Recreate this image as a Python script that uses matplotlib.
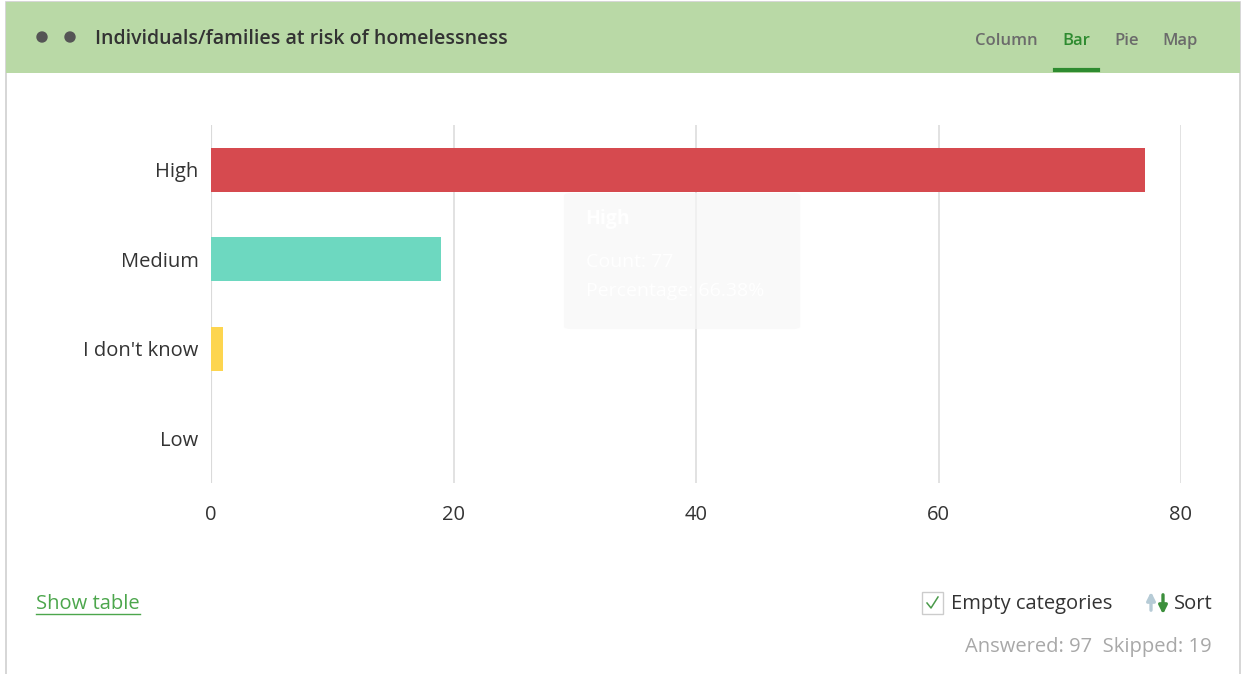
import matplotlib.pyplot as plt
from matplotlib.patches import Rectangle, FancyBboxPatch, Circle
from matplotlib.lines import Line2D

# Survey results
categories = ["High", "Medium", "I don't know", "Low"]
counts = [77, 19, 1, 0]
bar_colors = ["#d64a4f", "#6dd8c0", "#fdd54f", "#9b9b9b"]
answered = 97
skipped = 19
x_ticks = [0, 20, 40, 60, 80]

title = "Individuals/families at risk of homelessness"
font = ["Open Sans", "DejaVu Sans"]

W, H = 1244, 674
fig = plt.figure(figsize=(W / 100, H / 100), dpi=100)
fig.patch.set_facecolor("white")

# overlay axes in pixel coordinates for the card chrome
ov = fig.add_axes([0, 0, 1, 1], zorder=0)
ov.set_xlim(0, W)
ov.set_ylim(H, 0)
ov.axis("off")

# card border and green header
ov.add_patch(Rectangle((6, 2), 1234, 700, facecolor="white", edgecolor="#d0d0d0", lw=1.2))
ov.add_patch(Rectangle((6, 2), 1234, 71, facecolor="#b9d9a6", edgecolor="none"))
for cx in (42, 70):
    ov.add_patch(Circle((cx, 37), 5, color="#555555"))
ov.text(95, 39, title, fontsize=14, fontweight="semibold", color="#333333",
        family=font, va="center", ha="left")

tabs = [("Column", 975), ("Bar", 1062), ("Pie", 1114), ("Map", 1162)]
for name, tx in tabs:
    active = name == "Bar"
    ov.text(tx, 41, name, fontsize=12, fontweight="semibold", family=font,
            color="#2e8b30" if active else "#6b6b6b", va="center", ha="left")
ov.add_line(Line2D([1055, 1098], [70, 70], color="#2e8b30", lw=3))

# bar chart
ax = fig.add_axes([211 / W, 1 - 483 / H, 970 / W, 358 / H], zorder=1)
ax.patch.set_alpha(0)
ypos = list(range(len(categories)))
ax.barh(ypos, counts, height=0.49, color=bar_colors, zorder=2)
ax.set_xlim(0, 80)
ax.set_ylim(len(categories) - 0.5, -0.5)
ax.set_xticks(x_ticks)
ax.set_xticklabels([str(t) for t in x_ticks], fontsize=14.5, color="#333333", family=font)
ax.set_yticks(ypos)
ax.set_yticklabels(categories, fontsize=14.5, color="#333333", family=font)
ax.tick_params(length=0, pad=9)
ax.tick_params(axis="x", pad=16)
ax.xaxis.grid(True, color="#dddddd", lw=1.2, zorder=0)
for s in ax.spines.values():
    s.set_visible(False)
ax.axvline(0, color="#cccccc", lw=1.5, zorder=1)

# faint hover tooltip for the top bar
pct = counts[0] / (answered + skipped) * 100
ax.add_patch(FancyBboxPatch((29.1, 0.26), 19.5, 1.52,
                            boxstyle="round,pad=0,rounding_size=0.6",
                            transform=ax.transData, facecolor="#f7f7f7",
                            edgecolor="none", alpha=0.7, zorder=3, mutation_aspect=0.05))
ax.text(30.9, 0.55, categories[0], fontsize=14, fontweight="bold", color="white",
        family=font, zorder=4, va="center")
ax.text(30.9, 1.03, f"Count: {counts[0]}", fontsize=14, color="white",
        family=font, zorder=4, va="center")
ax.text(30.9, 1.35, f"Percentage: {pct:.2f}%", fontsize=14, color="white",
        family=font, zorder=4, va="center")

# footer controls
ov.text(36, 604, "Show table", fontsize=14.5, color="#4ca64c", family=font,
        va="center", ha="left")
ov.add_line(Line2D([36, 140], [614, 614], color="#4ca64c", lw=1))
ov.add_patch(Rectangle((922, 592), 21, 22, facecolor="white", edgecolor="#cccccc", lw=1))
ov.add_line(Line2D([927, 931, 938], [603, 608, 597], color="#4a9a4a", lw=1.1))
ov.text(951, 604, "Empty categories", fontsize=14.5, color="#333333", family=font,
        va="center", ha="left")
ov.annotate("", xy=(1151, 589), xytext=(1151, 613),
            arrowprops=dict(arrowstyle="-|>", color="#b6cbd6", lw=2.4, mutation_scale=12))
ov.annotate("", xy=(1163, 617), xytext=(1163, 592),
            arrowprops=dict(arrowstyle="-|>", color="#3c8f3c", lw=2.4, mutation_scale=12))
ov.text(1174, 604, "Sort", fontsize=14.5, color="#333333", family=font,
        va="center", ha="left")
ov.text(1212, 647, f"Answered: {answered}  Skipped: {skipped}", fontsize=14.5,
        color="#a8a8a8", family=font, va="center", ha="right")

fig.savefig("out.png", dpi=100)
